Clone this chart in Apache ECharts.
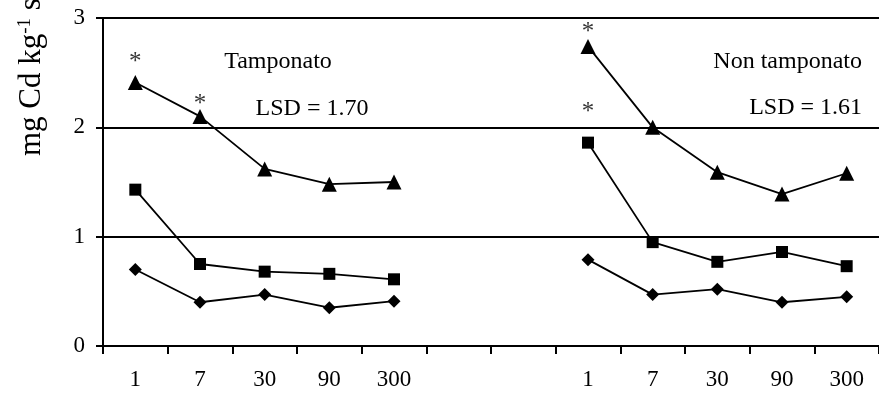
<!DOCTYPE html>
<html>
<head>
<meta charset="utf-8">
<script src="https://cdn.jsdelivr.net/npm/echarts@6/dist/echarts.min.js"></script>
<style>
    html, body { margin: 0; padding: 0; background: #fff; }
    #chart { width: 879px; height: 396px; }
</style>
</head>
<body>
<div id="chart"></div>
<script>
// days after treatment, repeated for both soils with two empty slots between
const days = ['1', '7', '30', '90', '300'];
const gap = ['', ''];

// Tamponato
const tampTriangle = [2.41, 2.10, 1.62, 1.48, 1.50];
const tampSquare = [1.43, 0.75, 0.68, 0.66, 0.61];
const tampDiamond = [0.70, 0.40, 0.47, 0.35, 0.41];

// Non tamponato
const nonTriangle = [2.74, 2.00, 1.59, 1.39, 1.58];
const nonSquare = [1.86, 0.95, 0.77, 0.86, 0.73];
const nonDiamond = [0.79, 0.47, 0.52, 0.40, 0.45];

// significance asterisks [slot index, value]
const stars = [[0, 2.59], [1, 2.21], [7, 2.87], [7, 2.14]];

const yTicks = [0, 1, 2, 3];

const FONT = '"Liberation Serif", "Times New Roman", serif';

const categories = [...days, ...gap, ...days];
const join = (a, b) => [...a, '-', '-', ...b];

const lineSeries = (name, symbol, size, a, b) => ({
    name,
    type: 'line',
    data: join(a, b),
    symbol,
    symbolSize: size,
    showAllSymbol: true,
    connectNulls: false,
    lineStyle: { color: '#000', width: 1.8 },
    itemStyle: { color: '#000' },
    z: 3,
    animation: false,
});

const chart = echarts.init(document.getElementById('chart'), null, { renderer: 'canvas' });

chart.setOption({
    animation: false,
    grid: { left: 103, top: 18, width: 779, height: 328 },
    xAxis: {
        type: 'category',
        data: categories,
        boundaryGap: true,
        axisLine: { lineStyle: { color: '#000', width: 2 } },
        axisTick: { show: true, length: 8, interval: 0, lineStyle: { color: '#000', width: 2 } },
        axisLabel: { interval: 0, margin: 22, color: '#000', fontFamily: FONT, fontSize: 23 },
        splitLine: { show: false },
    },
    yAxis: {
        type: 'value',
        min: yTicks[0],
        max: yTicks[yTicks.length - 1],
        interval: 1,
        axisLine: { show: true, lineStyle: { color: '#000', width: 2 } },
        axisTick: { show: true, length: 7, lineStyle: { color: '#000', width: 2 } },
        axisLabel: { margin: 18, color: '#000', fontFamily: FONT, fontSize: 23 },
        splitLine: { show: true, lineStyle: { color: '#000', width: 2 } },
    },
    series: [
        lineSeries('triangle', 'triangle', 15, tampTriangle, nonTriangle),
        lineSeries('square', 'rect', 12, tampSquare, nonSquare),
        lineSeries('diamond', 'diamond', 13, tampDiamond, nonDiamond),
        {
            name: 'stars',
            type: 'scatter',
            data: stars,
            symbolSize: 0,
            label: {
                show: true,
                position: 'inside',
                formatter: '*',
                color: '#000',
                fontFamily: FONT,
                fontSize: 25,
            },
            animation: false,
        },
    ],
    graphic: [
        {
            type: 'text',
            x: 32,
            y: 156,
            rotation: Math.PI / 2,
            style: {
                text: 'mg Cd kg{sup|-1} s.s.',
                font: '31px ' + FONT,
                fill: '#000',
                align: 'left',
                verticalAlign: 'middle',
                rich: {
                    sup: { fontSize: 19, fontFamily: FONT, verticalAlign: 'top', padding: [0, 0, 14, 0] },
                },
            },
        },
        {
            type: 'text', x: 278, y: 62,
            style: { text: 'Tamponato', font: '24px ' + FONT, fill: '#000', align: 'center', verticalAlign: 'middle' },
        },
        {
            type: 'text', x: 312, y: 109,
            style: { text: 'LSD = 1.70', font: '24px ' + FONT, fill: '#000', align: 'center', verticalAlign: 'middle' },
        },
        {
            type: 'text', x: 862, y: 62,
            style: { text: 'Non tamponato', font: '24px ' + FONT, fill: '#000', align: 'right', verticalAlign: 'middle' },
        },
        {
            type: 'text', x: 862, y: 108,
            style: { text: 'LSD = 1.61', font: '24px ' + FONT, fill: '#000', align: 'right', verticalAlign: 'middle' },
        },
    ],
});
</script>
</body>
</html>
